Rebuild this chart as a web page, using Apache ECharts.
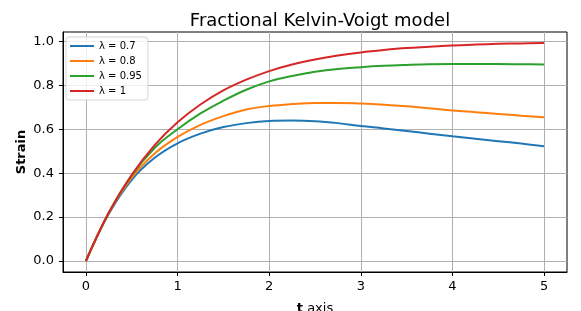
<!DOCTYPE html>
<html>
<head>
<meta charset="utf-8">
<script src="https://cdn.jsdelivr.net/npm/echarts@6/dist/echarts.min.js"></script>
<style>
html,body{margin:0;padding:0;background:#fff;}
#chart{width:581px;height:311px;}
</style>
</head>
<body>
<div id="chart"></div>
<script>
const tValues = [0, 0.25, 0.5, 0.75, 1, 1.25, 1.5, 1.75, 2, 2.25, 2.5, 2.75, 3, 3.25, 3.5, 3.75, 4, 4.25, 4.5, 4.75, 5];
const seriesNames = ['λ = 0.7', 'λ = 0.8', 'λ = 0.95', 'λ = 1'];
const strain07 = [0, 0.215, 0.37, 0.47, 0.536, 0.58, 0.61, 0.628, 0.638, 0.64, 0.637, 0.628, 0.615, 0.604, 0.592, 0.58, 0.568, 0.557, 0.546, 0.535, 0.523];
const strain08 = [0, 0.22, 0.38, 0.49, 0.565, 0.62, 0.66, 0.69, 0.706, 0.715, 0.72, 0.72, 0.717, 0.712, 0.705, 0.696, 0.686, 0.678, 0.670, 0.662, 0.655];
const strain095 = [0, 0.22, 0.39, 0.515, 0.60, 0.672, 0.73, 0.78, 0.818, 0.843, 0.862, 0.875, 0.883, 0.889, 0.893, 0.896, 0.897, 0.897, 0.897, 0.896, 0.895];
const strain1 = [0, 0.221, 0.393, 0.528, 0.632, 0.713, 0.777, 0.826, 0.865, 0.895, 0.918, 0.936, 0.950, 0.961, 0.970, 0.976, 0.982, 0.986, 0.989, 0.991, 0.993];
const xTicks = [0, 1, 2, 3, 4, 5];
const yTicks = [0, 0.2, 0.4, 0.6, 0.8, 1.0];
const colors = ['#1f77b4', '#ff7f0e', '#2ca02c', '#d62728'];
const allSeries = [strain07, strain08, strain095, strain1];

const font = 'DejaVu Sans';
const chart = echarts.init(document.getElementById('chart'), null, {renderer: 'canvas'});
chart.setOption({
  animation: false,
  backgroundColor: '#fff',
  title: {
    text: 'Fractional Kelvin-Voigt model',
    left: 315, top: 7, textAlign: 'center',
    textStyle: {fontFamily: font, fontSize: 18, fontWeight: 'normal', color: '#000'}
  },
  grid: {left: 63, right: 14, top: 32, bottom: 39, show: true, borderColor: '#000', borderWidth: 1,
    backgroundColor: 'transparent', containLabel: false, outerBoundsMode: 'none'},
  legend: {
    orient: 'vertical', left: 66, top: 37,
    data: seriesNames,
    icon: 'rect', itemWidth: 24, itemHeight: 2, itemGap: 5,
    padding: [4, 6, 4, 4],
    borderColor: '#d5d5d5', borderWidth: 1, borderRadius: 3,
    backgroundColor: 'rgba(255,255,255,0.8)',
    textStyle: {fontFamily: font, fontSize: 10, color: '#000'}
  },
  xAxis: {
    type: 'value', min: -0.25, max: 5.25,
    name: '{b|t} axis', nameLocation: 'middle', nameGap: 30, nameMoveOverlap: false,
    nameTextStyle: {fontFamily: font, fontSize: 13, color: '#000', rich: {b: {fontFamily: font, fontSize: 13, fontWeight: 'bold', color: '#000'}}},
    axisLine: {onZero: false, lineStyle: {color: '#000', width: 1}},
    axisTick: {customValues: xTicks, length: 4, lineStyle: {color: '#000'}},
    axisLabel: {customValues: xTicks, fontFamily: font, fontSize: 13, color: '#000', margin: 8},
    splitLine: {show: true, lineStyle: {color: '#b0b0b0', width: 1}}
  },
  yAxis: {
    type: 'value', min: -0.05, max: 1.043,
    name: 'Strain', nameLocation: 'middle', nameGap: 35, nameRotate: 90, nameMoveOverlap: false,
    nameTextStyle: {fontFamily: font, fontSize: 13, fontWeight: 'bold', color: '#000'},
    axisLine: {show: true, onZero: false, lineStyle: {color: '#000', width: 1}},
    axisTick: {show: true, customValues: yTicks, length: 4, lineStyle: {color: '#000'}},
    axisLabel: {customValues: yTicks, fontFamily: font, fontSize: 13, color: '#000', margin: 9,
      formatter: v => v.toFixed(1)},
    splitLine: {show: true, lineStyle: {color: '#b0b0b0', width: 1}}
  },
  series: seriesNames.map((n, i) => ({
    name: n, type: 'line', smooth: 0.4, symbol: 'none',
    color: colors[i],
    lineStyle: {width: 2, color: colors[i]},
    data: tValues.map((t, j) => [t, allSeries[i][j]])
  }))
});
</script>
</body>
</html>
